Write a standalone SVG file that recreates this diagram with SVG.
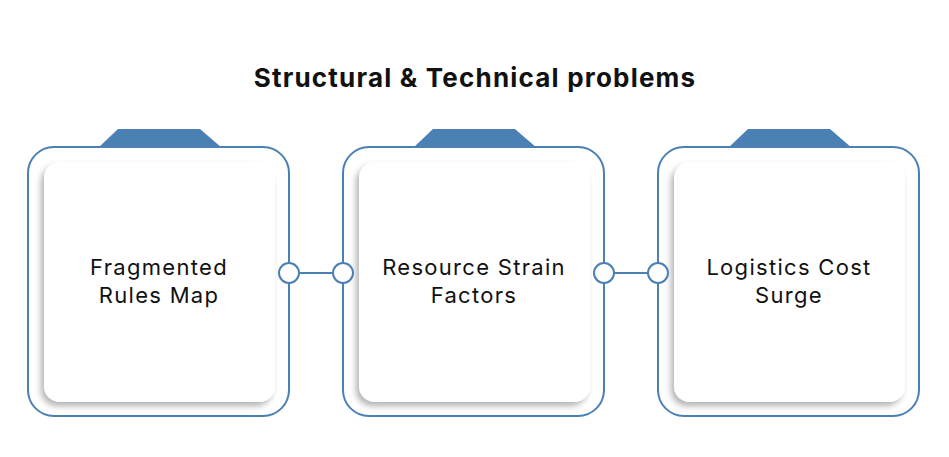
<svg xmlns="http://www.w3.org/2000/svg" width="949" height="457" viewBox="0 0 949 457">
<defs>
<style>
.outer{fill:#fff;stroke:#4a80b3;stroke-width:2}
.tab{fill:#4a80b3}
.card{fill:#fff}
.lbl{font-family:"Inter","Liberation Sans",sans-serif;font-size:22px;letter-spacing:1.3px;fill:#111;text-anchor:middle}
.title{font-family:"Inter","Liberation Sans",sans-serif;font-size:26px;letter-spacing:1.2px;font-weight:700;fill:#111;text-anchor:middle}
.conn{stroke:#4a80b3;stroke-width:2;fill:none}
.dot{fill:#fff;stroke:#4a80b3;stroke-width:2}
</style>
<filter id="sh" x="-20%" y="-20%" width="140%" height="140%">
<feGaussianBlur in="SourceAlpha" stdDeviation="3"/>
<feOffset dx="-3" dy="4" result="b"/>
<feComponentTransfer><feFuncA type="linear" slope="0.3"/></feComponentTransfer>
<feMerge><feMergeNode/><feMergeNode in="SourceGraphic"/></feMerge>
</filter>
</defs>
<rect width="949" height="457" fill="#fff"/>
<text class="title" x="475" y="87">Structural &amp; Technical problems</text>
<g id="node1">
<path class="tab" d="M98,148 L118,129 L200,129 L222,148 Z"/>
<rect class="outer" x="28" y="147" width="261" height="269" rx="26"/>
<rect class="card" x="44" y="162" width="231" height="240" rx="16" filter="url(#sh)"/>
<text class="lbl" x="159" y="275">Fragmented</text>
<text class="lbl" x="159" y="303">Rules Map</text>
</g>
<g id="node2">
<path class="tab" d="M413,148 L433,129 L515,129 L537,148 Z"/>
<rect class="outer" x="343" y="147" width="261" height="269" rx="26"/>
<rect class="card" x="359" y="162" width="231" height="240" rx="16" filter="url(#sh)"/>
<text class="lbl" x="474" y="275">Resource Strain</text>
<text class="lbl" x="474" y="303">Factors</text>
</g>
<g id="node3">
<path class="tab" d="M728,148 L748,129 L830,129 L852,148 Z"/>
<rect class="outer" x="658" y="147" width="261" height="269" rx="26"/>
<rect class="card" x="674" y="162" width="231" height="240" rx="16" filter="url(#sh)"/>
<text class="lbl" x="789" y="275">Logistics Cost</text>
<text class="lbl" x="789" y="303">Surge</text>
</g>
<g id="connectors">
<line class="conn" x1="289" y1="273" x2="343" y2="273"/>
<line class="conn" x1="604" y1="273" x2="658" y2="273"/>
<circle class="dot" cx="289" cy="273" r="10"/>
<circle class="dot" cx="343" cy="273" r="10"/>
<circle class="dot" cx="604" cy="273" r="10"/>
<circle class="dot" cx="658" cy="273" r="10"/>
</g>
</svg>
